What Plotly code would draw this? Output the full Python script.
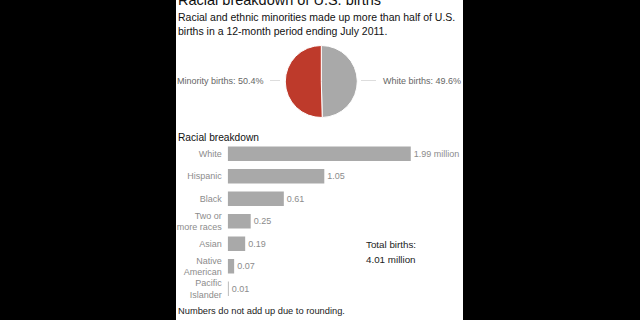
import plotly.graph_objects as go

# ---- data ----
pie_labels = ["White births", "Minority births"]
pie_values = [49.6, 50.4]

categories = ["White", "Hispanic", "Black", "Two or<br>more races", "Asian",
              "Native<br>American", "Pacific<br>Islander"]
births_millions = [1.99, 1.05, 0.61, 0.25, 0.19, 0.07, 0.01]
total_births = 4.01

title = "Racial breakdown of U.S. births"
subtitle = "Racial and ethnic minorities made up more than half of U.S.<br>births in a 12-month period ending July 2011."
section = "Racial breakdown"
footnote = "Numbers do not add up due to rounding."

# ---- helpers (pixel -> paper) ----
W, H = 640, 320
def X(px): return px / W
def Y(py): return 1 - py / H

FONT = "Liberation Sans, Arial, sans-serif"
RED = "#be3a2b"
GRAY = "#a9a9a9"
LABEL_GRAY = "#8c8c8c"

fig = go.Figure()

fig.add_trace(go.Pie(
    labels=pie_labels, values=pie_values, sort=False, direction="clockwise",
    rotation=0, marker=dict(colors=[GRAY, RED], line=dict(color="white", width=1)),
    textinfo="none", hoverinfo="none", showlegend=False,
    domain=dict(x=[X(285), X(357.6)], y=[Y(117.5), Y(45.5)]),
))

bar_text = [f"{v:.2f}" for v in births_millions]
bar_text[0] = bar_text[0] + " million"

fig.add_trace(go.Bar(
    x=births_millions, y=categories, orientation="h",
    marker=dict(color=GRAY, line=dict(width=0)),
    text=bar_text, textposition="outside", cliponaxis=False,
    textfont=dict(size=9, color=LABEL_GRAY, family=FONT),
    hoverinfo="none", showlegend=False,
))

fig.update_layout(
    width=W, height=H, margin=dict(l=0, r=0, t=0, b=0),
    paper_bgcolor="black", plot_bgcolor="rgba(0,0,0,0)",
    font=dict(family=FONT),
    bargap=0.36,
    xaxis=dict(domain=[X(227.7), X(411.7)], range=[0, 2.0], visible=False, fixedrange=True),
    yaxis=dict(domain=[Y(300.0), Y(142.45)], autorange="reversed", showgrid=False,
               zeroline=False, showline=False, ticks="", ticklabelstandoff=5,
               tickfont=dict(size=9, color=LABEL_GRAY, family=FONT), fixedrange=True),
    shapes=[
        dict(type="rect", xref="paper", yref="paper", x0=X(176), x1=X(463), y0=0, y1=1,
             fillcolor="white", line=dict(width=0), layer="below"),
        dict(type="line", xref="paper", yref="paper", x0=X(270), x1=X(280), y0=Y(80.5), y1=Y(80.5),
             line=dict(color="#dddddd", width=1)),
        dict(type="line", xref="paper", yref="paper", x0=X(361), x1=X(376), y0=Y(80.5), y1=Y(80.5),
             line=dict(color="#dddddd", width=1)),
    ],
)

ann = []
def add(text, x, y, size, color, xanchor="left", yanchor="middle", align="left"):
    ann.append(dict(text=text, x=X(x), y=Y(y), xref="paper", yref="paper", showarrow=False,
                    xanchor=xanchor, yanchor=yanchor, align=align,
                    font=dict(size=size, color=color, family=FONT)))

add(title, 176, 0, 14.5, "#111111", yanchor="middle")
add(subtitle, 176, 24, 10.5, "#111111")
add(f"{pie_labels[1]}: {pie_values[1]}%", 266, 80.5, 9, "#666666", xanchor="right")
add(f"{pie_labels[0]}: {pie_values[0]}%", 381, 80.5, 9, "#666666")
add(section, 176, 137, 10.2, "#111111")
add("Total births:", 363.5, 244.5, 9.8, "#222222")
add(f"{total_births:.2f} million", 363.5, 259.5, 9.8, "#222222")
add(footnote, 176, 311, 9.3, "#222222")

fig.update_layout(annotations=ann)

fig.write_html("out.html")
